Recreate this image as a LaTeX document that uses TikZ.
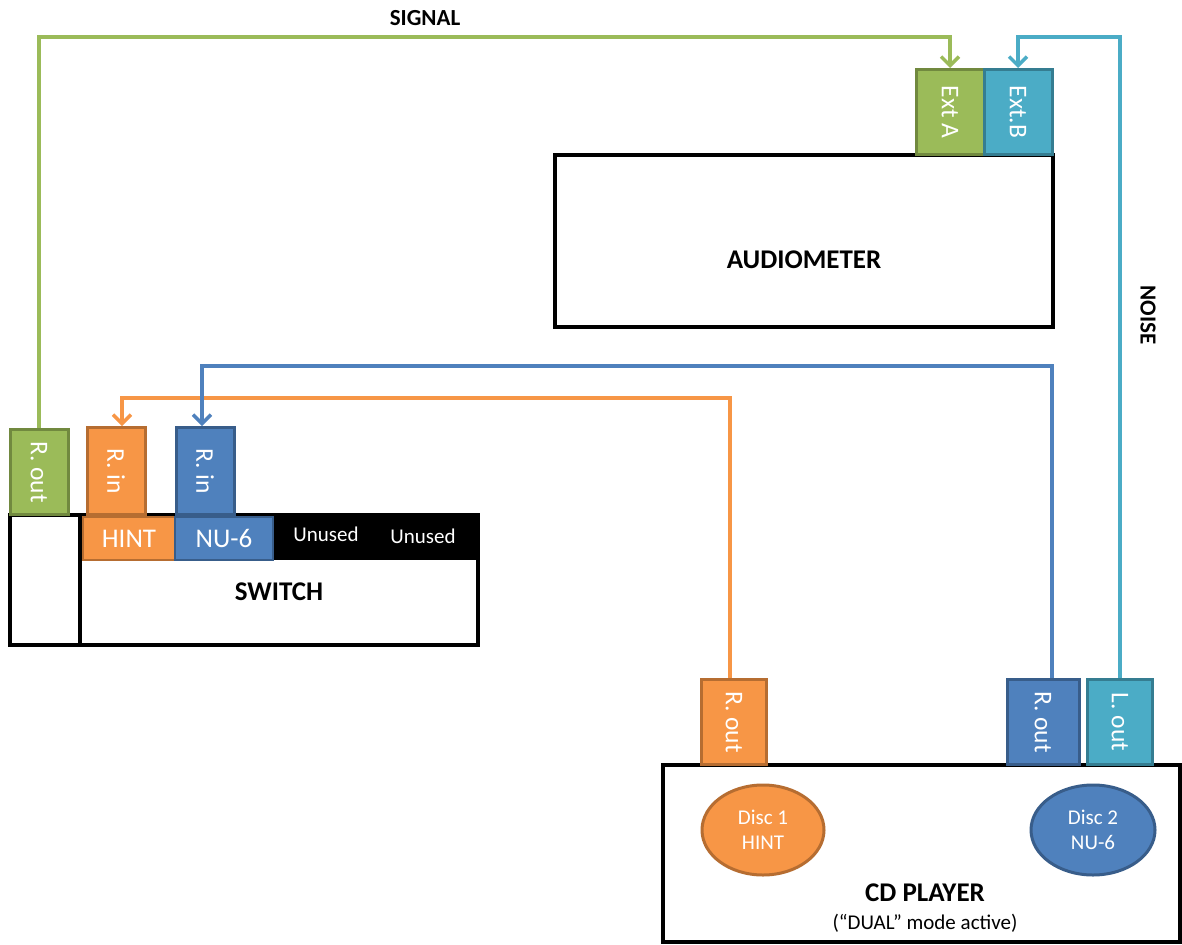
\documentclass[tikz,border=0pt]{standalone}
\usepackage{fontspec}
\usepackage{graphicx}
\setmainfont{Carlito}
\usetikzlibrary{arrows.meta,shapes.geometric}
\definecolor{gF}{HTML}{9BBB59}\definecolor{gD}{HTML}{71893F}
\definecolor{oF}{HTML}{F79646}\definecolor{oD}{HTML}{B66D31}
\definecolor{bF}{HTML}{4F81BD}\definecolor{bD}{HTML}{385D8A}
\definecolor{tF}{HTML}{4BACC6}\definecolor{tD}{HTML}{357D91}
\begin{document}
\begin{tikzpicture}[x=1pt,y=-1pt,
  port/.style={draw, line width=3pt, minimum width=58pt, minimum height=85pt, inner sep=0pt, text=white, font=\fontsize{25.5}{28}\selectfont},
  box/.style={draw=black, line width=3.2pt, fill=white, inner sep=0pt},
  wire/.style={line width=3.5pt},
  tip/.style={-{Straight Barb[length=9pt,width=18pt,line width=3.5pt]}},
  title/.style={font=\fontsize{27}{30}\selectfont\bfseries},
  disc/.style={ellipse, line width=3pt, minimum width=122pt, minimum height=90pt, text=white, align=center, font=\fontsize{21}{25}\selectfont},
  slot/.style={line width=2pt, inner sep=0pt, minimum height=43pt, text=white, font=\fontsize{27}{30}\selectfont},
  ]
\useasboundingbox (0,0) rectangle (1182,944);

% ---------- audiometer ----------
\node[box, minimum width=498pt, minimum height=172pt] (aud) at (804,241) {};
\node[title] (audlbl) at (804,260) {AUDIOMETER};
\node[port, fill=gF, draw=gD, minimum width=68pt] (extA) at (950,112) {\rotatebox{-90}{Ext A}};
\node[port, fill=tF, draw=tD, minimum width=68pt] (extB) at (1018,112) {\rotatebox{-90}{Ext.B}};

% ---------- switch ----------
\node[box, minimum width=468pt, minimum height=130pt] (sw) at (244,580) {};
\fill[black] (272,515) rectangle (478,560);
\draw[line width=3.2pt] (80,515) -- (80,645);
\node[slot, fill=oF, draw=oD, minimum width=92pt] (hint) at (129,538.5) {HINT};
\node[slot, fill=bF, draw=bD, minimum width=98pt] (nu6) at (224,538.5) {NU-6};
\node[text=white, font=\fontsize{21}{24}\selectfont] (un1) at (326,534) {Unused};
\node[text=white, font=\fontsize{21}{24}\selectfont] (un2) at (423,536) {Unused};
\node[title] (swlbl) at (279,592) {SWITCH};
\node[port, fill=gF, draw=gD] (swout) at (39,472) {\rotatebox{-90}{R. out}};
\node[port, fill=oF, draw=oD, minimum height=87pt] (rinO) at (116,471) {\rotatebox{-90}{R. in}};
\node[port, fill=bF, draw=bD, minimum height=87pt] (rinB) at (205,471) {\rotatebox{-90}{R. in}};

% ---------- CD player ----------
\node[box, minimum width=517pt, minimum height=177pt] (cd) at (921.5,853.5) {};
\node[title] (cdlbl) at (925,893) {CD PLAYER};
\node[font=\fontsize{21}{24}\selectfont] (cdsub) at (925,923) {(“DUAL” mode active)};
\node[disc, fill=oF, draw=oD] (d1) at (763,830) {Disc 1\\HINT};
\node[disc, fill=bF, draw=bD, minimum width=124pt] (d2) at (1093,830) {Disc 2\\NU-6};
\node[port, fill=oF, draw=oD, minimum width=65pt] (cdro) at (734,722) {\rotatebox{-90}{R. out}};
\node[port, fill=bF, draw=bD, minimum width=72pt] (cdrb) at (1043,722) {\rotatebox{-90}{R. out}};
\node[port, fill=tF, draw=tD, minimum width=65pt] (cdl) at (1120,722) {\rotatebox{-90}{L. out}};

% ---------- connectors ----------
\coordinate (sigTop) at (0,37);
\coordinate (oTop) at (0,398);
\coordinate (bTop) at (0,366);
\draw[wire, gF, tip] (swout.north) -- (swout.north |- sigTop) -| (extA.north);
\draw[wire, tF, tip] (cdl.north) -- (cdl.north |- sigTop) -| (extB.north);
\draw[wire, oF, tip] ([xshift=-4pt]cdro.north) -- ([xshift=-4pt]cdro.north |- oTop) -| ([xshift=6pt]rinO.north);
\draw[wire, bF, tip] ([xshift=9pt]cdrb.north) -- ([xshift=9pt]cdrb.north |- bTop) -| ([xshift=-3pt]rinB.north);

\node[font=\fontsize{23}{26}\selectfont\bfseries] (siglbl) at (425,18) {SIGNAL};
\node[font=\fontsize{23}{26}\selectfont\bfseries, rotate=-90] (noiselbl) at (1148,315) {NOISE};
\end{tikzpicture}
\end{document}
